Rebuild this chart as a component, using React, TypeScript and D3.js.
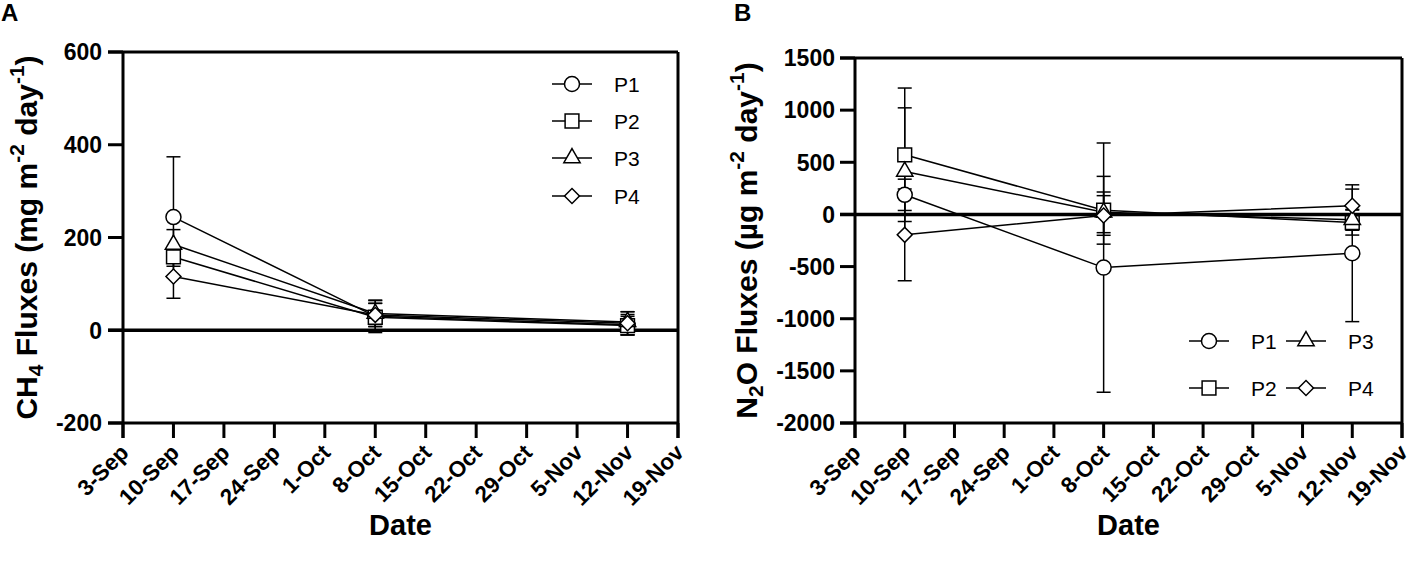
import * as d3 from 'd3'
import React from 'react'

// sampling dates and the weekly tick labels (year is arbitrary)
const sampleDates = ['10-Sep', '8-Oct', '12-Nov']
const tickLabels = ['3-Sep', '10-Sep', '17-Sep', '24-Sep', '1-Oct', '8-Oct', '15-Oct', '22-Oct', '29-Oct', '5-Nov', '12-Nov', '19-Nov']
const seriesNames = ['P1', 'P2', 'P3', 'P4']

// CH4 fluxes (mg m-2 day-1), mean and SD
const ch4P1 = [244, 30, 12]
const ch4P2 = [158, 28, 10]
const ch4P3 = [185, 36, 18]
const ch4P4 = [116, 33, 15]
const ch4P1Sd = [130, 35, 22]
const ch4P2Sd = [20, 30, 20]
const ch4P3Sd = [32, 28, 22]
const ch4P4Sd = [47, 25, 25]
const ch4Ticks = [600, 400, 200, 0, -200]

// N2O fluxes (µg m-2 day-1), mean and SD
const n2oP1 = [188, -510, -372]
const n2oP2 = [572, 40, -78]
const n2oP3 = [412, 20, -52]
const n2oP4 = [-196, -10, 83]
const n2oP1Sd = [150, 1195, 656]
const n2oP2Sd = [640, 325, 120]
const n2oP3Sd = [610, 195, 100]
const n2oP4Sd = [440, 190, 160]
const n2oTicks = [1500, 1000, 500, 0, -500, -1000, -1500, -2000]

const FONT = "Arial, 'Liberation Sans', sans-serif"
const parseDay = (s: string) => d3.timeParse('%d-%b-%Y')(s + '-2020') as Date

const symbols = [
  d3.symbol(d3.symbolCircle, 177)(),
  d3.symbol(d3.symbolSquare, 190)(),
  d3.symbol(d3.symbolTriangle, 115)(),
  d3.symbol(d3.symbolSquare, 112)(),
]
const Marker = ({ i, x, y }: { i: number, x: number, y: number }) => (
  <path d={symbols[i] as string} transform={`translate(${x},${y})${i === 3 ? ' rotate(45)' : ''}`}
    fill="white" stroke="black" strokeWidth={1.5} />
)

type panel = {
  left: number, right: number, top: number, bottom: number,
  domain: [number, number], ticks: number[],
  means: number[][], sds: number[][],
  letter: string, title: React.ReactNode, titleX: number,
  legend: { x: number, y: number }[], tickGap: number
}

const Panel = ({ p }: { p: panel }) => {
  const x = d3.scaleTime()
    .domain([parseDay(tickLabels[0]), parseDay(tickLabels[tickLabels.length - 1])])
    .range([p.left, p.right])
  const y = d3.scaleLinear().domain(p.domain).range([p.bottom, p.top])
  const dates = sampleDates.map(parseDay)
  const line = d3.line<number>().x((d, i) => x(dates[i])).y(d => y(d))
  const tl = 15
  const cap = 7
  return (
    <g>
      <text x={p.left - (p.letter === 'A' ? 122 : 121)} y={21} fontSize={24} fontWeight="bold">{p.letter}</text>
      {/* frame */}
      <line x1={p.left - tl} x2={p.right} y1={p.top} y2={p.top} stroke="black" strokeWidth={3} />
      <line x1={p.left} x2={p.left} y1={p.top} y2={p.bottom + tl} stroke="black" strokeWidth={3} />
      <line x1={p.right} x2={p.right} y1={p.top} y2={p.bottom + tl} stroke="black" strokeWidth={3} />
      <line x1={p.left - tl} x2={p.right} y1={p.bottom} y2={p.bottom} stroke="black" strokeWidth={3} />
      <line x1={p.left - tl} x2={p.right} y1={y(0)} y2={y(0)} stroke="black" strokeWidth={3.5} />
      {p.ticks.map(t => (
        <g key={t}>
          <line x1={p.left - tl} x2={p.left} y1={y(t)} y2={y(t)} stroke="black" strokeWidth={3} />
          <text x={p.left - p.tickGap} y={y(t)} dy="0.36em" textAnchor="end" fontSize={23} fontWeight="bold">{t}</text>
        </g>
      ))}
      {tickLabels.map(l => {
        const tx = x(parseDay(l))
        return (
          <g key={l}>
            <line x1={tx} x2={tx} y1={p.bottom} y2={p.bottom + tl} stroke="black" strokeWidth={3} />
            <text transform={`translate(${tx + 7},${p.bottom + 31}) rotate(-45)`} textAnchor="end"
              fontSize={22.5} fontWeight="bold">{l}</text>
          </g>
        )
      })}
      <text x={(p.left + p.right) / 2} y={535} textAnchor="middle" fontSize={29} fontWeight="bold">Date</text>
      <text transform={`translate(${p.titleX},${(p.top + p.bottom) / 2}) rotate(-90)`} textAnchor="middle"
        fontSize={30} fontWeight="bold">{p.title}</text>
      {/* error bars */}
      {p.means.map((m, s) => m.map((v, i) => {
        const cx = x(dates[i])
        const lo = y(v - p.sds[s][i])
        const hi = y(v + p.sds[s][i])
        return (
          <g key={`e${s}${i}`} stroke="black" strokeWidth={1.5}>
            <line x1={cx} x2={cx} y1={lo} y2={hi} />
            <line x1={cx - cap} x2={cx + cap} y1={lo} y2={lo} />
            <line x1={cx - cap} x2={cx + cap} y1={hi} y2={hi} />
          </g>
        )
      }))}
      {p.means.map((m, s) => (
        <path key={`l${s}`} d={line(m) as string} fill="none" stroke="black" strokeWidth={1.5} />
      ))}
      {p.means.map((m, s) => m.map((v, i) => (
        <Marker key={`m${s}${i}`} i={s} x={x(dates[i])} y={y(v)} />
      )))}
      {/* legend */}
      {seriesNames.map((n, s) => {
        const g = p.legend[s]
        return (
          <g key={n}>
            <line x1={g.x - 20} x2={g.x + 20} y1={g.y} y2={g.y} stroke="black" strokeWidth={1.5} />
            <Marker i={s} x={g.x} y={g.y} />
            <text x={g.x + 42} y={g.y} dy="0.36em" fontSize={21}>{n}</text>
          </g>
        )
      })}
    </g>
  )
}

const sup = (t: string) => <tspan fontSize="0.7em" dy="-0.6em">{t}</tspan>
const back = (t: string) => <tspan dy="0.42em">{t}</tspan>

export default function App() {
  const a: panel = {
    left: 123, right: 678, top: 52, bottom: 423,
    domain: [-200, 600], ticks: ch4Ticks,
    means: [ch4P1, ch4P2, ch4P3, ch4P4], sds: [ch4P1Sd, ch4P2Sd, ch4P3Sd, ch4P4Sd],
    letter: 'A', titleX: 37, tickGap: 21,
    title: <>CH<tspan fontSize="0.7em" dy="0.3em">4</tspan><tspan dy="-0.21em"> Fluxes (mg m</tspan>{sup('-2')}{back(' day')}{sup('-1')}{back(')')}</>,
    legend: [{ x: 572, y: 84 }, { x: 572, y: 121 }, { x: 572, y: 158 }, { x: 572, y: 196 }],
  }
  const b: panel = {
    left: 855, right: 1402, top: 58, bottom: 423,
    domain: [-2000, 1500], ticks: n2oTicks,
    means: [n2oP1, n2oP2, n2oP3, n2oP4], sds: [n2oP1Sd, n2oP2Sd, n2oP3Sd, n2oP4Sd],
    letter: 'B', titleX: 757, tickGap: 20,
    title: <>N<tspan fontSize="0.7em" dy="0.3em">2</tspan><tspan dy="-0.21em">O Fluxes (µg m</tspan>{sup('-2')}{back(' day')}{sup('-1')}{back(')')}</>,
    legend: [{ x: 1209, y: 341 }, { x: 1209, y: 388 }, { x: 1306, y: 341 }, { x: 1306, y: 388 }],
  }
  return (
    <svg width={1417} height={569} style={{ position: 'absolute', left: 0, top: 0, background: 'white' }}
      fontFamily={FONT}>
      <Panel p={a} />
      <Panel p={b} />
    </svg>
  )
}
